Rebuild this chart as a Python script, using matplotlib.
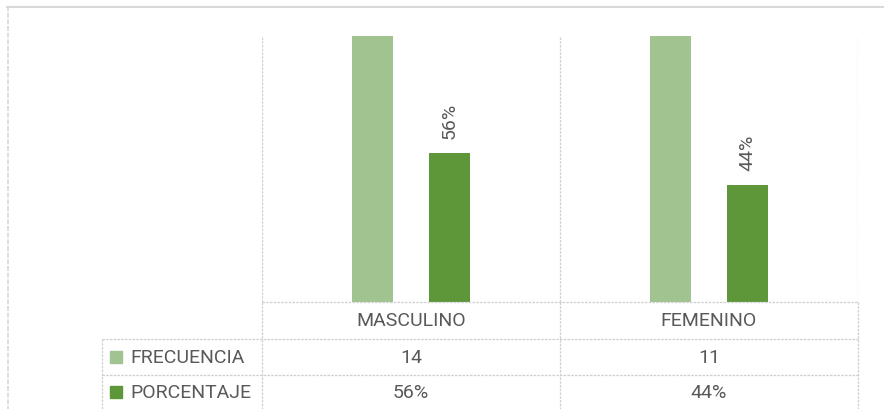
import numpy as np
import matplotlib.pyplot as plt
from matplotlib.lines import Line2D
from matplotlib.patches import Rectangle

categorias = ["MASCULINO", "FEMENINO"]
series = ["FRECUENCIA", "PORCENTAJE"]
frecuencia = [14, 11]
porcentaje = [0.56, 0.44]

light = "#a0c38f"
dark = "#5e9739"
grid_c = "#cfcfcf"
txt_c = "#595959"
W, H = 884, 410

plt.rcParams['font.family'] = ['Roboto', 'DejaVu Sans']

fig = plt.figure(figsize=(W / 100, H / 100), dpi=100)


def fx(x):
    return x / W


def fy(y):
    return 1 - y / H


def hline(y, x0, x1, **kw):
    fig.add_artist(Line2D([fx(x0), fx(x1)], [fy(y), fy(y)], transform=fig.transFigure, **kw))


def vline(x, y0, y1, **kw):
    fig.add_artist(Line2D([fx(x), fx(x)], [fy(y0), fy(y1)], transform=fig.transFigure, **kw))


dot = dict(color=grid_c, lw=0.9, linestyle=(0, (2, 1)))

# outer chart border
hline(7.5, 7, W, color="#d9d9d9", lw=1.5)
vline(8, 7, H, color="#d9d9d9", lw=1.2, linestyle=(0, (3, 1)))

# plot area
ax = fig.add_axes([fx(262), fy(303), fx(858) - fx(262), (303 - 37) / H])
x = np.arange(len(categorias))
bw = 0.138
off = 0.129
ax.bar(x - off, frecuencia, bw, color=light, zorder=2)
ax.bar(x + off, porcentaje, bw, color=dark, zorder=2)
for xi, p in zip(x, porcentaje):
    ax.annotate(f"{p:.0%}", (xi + off, p), xytext=(0, 11), textcoords="offset points",
                rotation=90, ha="center", va="bottom", fontsize=14, color=txt_c)
ax.set_xlim(-0.5, len(categorias) - 0.5)
ax.set_ylim(0, 1)
for gx in np.arange(len(categorias) + 1) - 0.5:
    ax.axvline(gx, zorder=1, **dot)
ax.set_xticks([])
ax.set_yticks([])
for s in ax.spines.values():
    s.set_visible(False)

# data table
cols = [262, 560, 858]
rows = [303, 340, 376, 412]
hline(rows[0], cols[0], cols[-1], **dot)
for r in rows[1:3]:
    hline(r, 102, cols[-1], **dot)
for c in cols:
    vline(c, rows[0], H, **dot)
vline(102, rows[1], H, **dot)

fs = 14
for i, cat in enumerate(categorias):
    cx = (cols[i] + cols[i + 1]) / 2
    fig.text(fx(cx), fy((rows[0] + rows[1]) / 2), cat, ha="center", va="center",
             fontsize=fs, color=txt_c)
    fig.text(fx(cx), fy((rows[1] + rows[2]) / 2), str(frecuencia[i]), ha="center",
             va="center", fontsize=fs, color=txt_c)
    fig.text(fx(cx), fy((rows[2] + rows[3]) / 2 - 1), f"{porcentaje[i]:.0%}", ha="center",
             va="center", fontsize=fs, color=txt_c)

for j, (name, col) in enumerate(zip(series, [light, dark])):
    cy = (rows[j + 1] + rows[j + 2]) / 2 - (1 if j else 0)
    fig.add_artist(Rectangle((fx(110), fy(cy + 6)), 12 / W, 12 / H,
                             transform=fig.transFigure, color=col))
    fig.text(fx(130), fy(cy), name, ha="left", va="center", fontsize=fs, color=txt_c)

fig.savefig("out.png", dpi=100)
